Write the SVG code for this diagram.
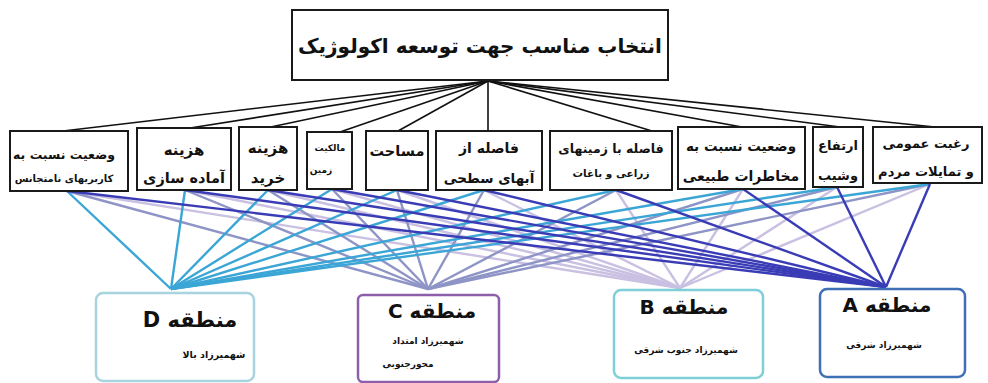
<svg xmlns="http://www.w3.org/2000/svg" width="988" height="383" viewBox="0 0 988 383">
<style>
  .box{fill:#fff;stroke:#1a1a1a;stroke-width:2}
  .t{font-family:"DejaVu Sans","Noto Sans",sans-serif;font-weight:bold;fill:#111;text-anchor:middle;direction:rtl}
  .top{stroke:#111;stroke-width:1.6;fill:none}
  .d{stroke:#3ba6d6;stroke-width:2.4}
  .c{stroke:#8e95c6;stroke-width:2.4}
  .b{stroke:#c9c0e2;stroke-width:2.4}
  .a{stroke:#3a3cb6;stroke-width:2.4}
  .reg{fill:#fff;stroke-width:2.5}
</style>
<rect width="988" height="383" fill="#fff"/>
<g id="connectors">
  <g class="top">
    <line x1="488" y1="81" x2="63" y2="131"/>
    <line x1="488" y1="81" x2="190" y2="128"/>
    <line x1="488" y1="81" x2="266" y2="128"/>
    <line x1="488" y1="81" x2="340" y2="132"/>
    <line x1="488" y1="81" x2="398" y2="131"/>
    <line x1="488" y1="81" x2="488" y2="131"/>
    <line x1="488" y1="81" x2="652" y2="131"/>
    <line x1="488" y1="81" x2="742" y2="127"/>
    <line x1="488" y1="81" x2="840" y2="127"/>
    <line x1="488" y1="81" x2="935" y2="127"/>
  </g>
  <g class="b">
    <line x1="67" y1="191" x2="680" y2="288"/>
    <line x1="185" y1="190" x2="680" y2="288"/>
    <line x1="268" y1="190" x2="680" y2="288"/>
    <line x1="332" y1="189" x2="680" y2="288"/>
    <line x1="397" y1="190" x2="680" y2="288"/>
    <line x1="484" y1="190" x2="680" y2="288"/>
    <line x1="616" y1="190" x2="680" y2="288"/>
    <line x1="743" y1="189" x2="680" y2="288"/>
    <line x1="837" y1="187" x2="680" y2="288"/>
    <line x1="930" y1="184" x2="680" y2="288"/>
  </g>
  <g class="c">
    <line x1="67" y1="191" x2="428" y2="289"/>
    <line x1="185" y1="190" x2="428" y2="289"/>
    <line x1="268" y1="190" x2="428" y2="289"/>
    <line x1="332" y1="189" x2="428" y2="289"/>
    <line x1="397" y1="190" x2="428" y2="289"/>
    <line x1="484" y1="190" x2="428" y2="289"/>
    <line x1="616" y1="190" x2="428" y2="289"/>
    <line x1="743" y1="189" x2="428" y2="289"/>
    <line x1="837" y1="187" x2="428" y2="289"/>
    <line x1="930" y1="184" x2="428" y2="289"/>
  </g>
  <g class="d">
    <line x1="67" y1="191" x2="171" y2="289"/>
    <line x1="185" y1="190" x2="171" y2="289"/>
    <line x1="268" y1="190" x2="171" y2="289"/>
    <line x1="332" y1="189" x2="171" y2="289"/>
    <line x1="397" y1="190" x2="171" y2="289"/>
    <line x1="484" y1="190" x2="171" y2="289"/>
    <line x1="616" y1="190" x2="171" y2="289"/>
    <line x1="743" y1="189" x2="171" y2="289"/>
    <line x1="837" y1="187" x2="171" y2="289"/>
    <line x1="930" y1="184" x2="171" y2="289"/>
  </g>
  <g class="a">
    <line x1="67" y1="191" x2="886" y2="287"/>
    <line x1="185" y1="190" x2="886" y2="287"/>
    <line x1="268" y1="190" x2="886" y2="287"/>
    <line x1="332" y1="189" x2="886" y2="287"/>
    <line x1="397" y1="190" x2="886" y2="287"/>
    <line x1="484" y1="190" x2="886" y2="287"/>
    <line x1="616" y1="190" x2="886" y2="287"/>
    <line x1="743" y1="189" x2="886" y2="287"/>
    <line x1="837" y1="187" x2="886" y2="287"/>
    <line x1="930" y1="184" x2="886" y2="287"/>
  </g>
</g>
<g id="goal">
  <rect class="box" x="292" y="10" width="376" height="70" stroke-width="3"/>
  <text class="t" x="480" y="53" font-size="20">انتخاب مناسب جهت توسعه اکولوژیک</text>
</g>
<g id="c1">
  <rect class="box" x="10" y="131" width="118" height="60"/>
  <text class="t" x="64" y="159" font-size="12.5">وضعیت نسبت به</text>
  <text class="t" x="64" y="182" font-size="10">کاربریهای نامتجانس</text>
</g>
<g id="c2">
  <rect class="box" x="137" y="128" width="94" height="62"/>
  <text class="t" x="184" y="155" font-size="15">هزینه</text>
  <text class="t" x="184" y="183" font-size="14.5">آماده سازی</text>
</g>
<g id="c3">
  <rect class="box" x="239" y="127" width="58" height="63"/>
  <text class="t" x="268" y="153" font-size="15">هزینه</text>
  <text class="t" x="268" y="183" font-size="15">خرید</text>
</g>
<g id="c4">
  <rect class="box" x="307" y="132" width="45" height="57" stroke-width="1.6"/>
  <text class="t" x="330" y="151" font-size="9" font-weight="normal">مالکیت</text>
  <text class="t" x="321" y="173" font-size="9" font-weight="normal">زمین</text>
</g>
<g id="c5">
  <rect class="box" x="366" y="131" width="62" height="59"/>
  <text class="t" x="397" y="156" font-size="14.5">مساحت</text>
</g>
<g id="c6">
  <rect class="box" x="436" y="131" width="106" height="59"/>
  <text class="t" x="489" y="153" font-size="14">فاصله از</text>
  <text class="t" x="489" y="183" font-size="13.5">آبهای سطحی</text>
</g>
<g id="c7">
  <rect class="box" x="550" y="131" width="122" height="59"/>
  <text class="t" x="611" y="153" font-size="12.5">فاصله با زمینهای</text>
  <text class="t" x="611" y="177" font-size="10.5">زراعی و باغات</text>
</g>
<g id="c8">
  <rect class="box" x="678" y="127" width="127" height="62"/>
  <text class="t" x="741" y="151" font-size="13.5">وضعیت نسبت به</text>
  <text class="t" x="741" y="181" font-size="14">مخاطرات طبیعی</text>
</g>
<g id="c9">
  <rect class="box" x="813" y="127" width="50" height="60"/>
  <text class="t" x="838" y="150" font-size="13">ارتفاع</text>
  <text class="t" x="838" y="180" font-size="13">وشیب</text>
</g>
<g id="c10">
  <rect class="box" x="873" y="127" width="109" height="56"/>
  <text class="t" x="926" y="148" font-size="13">رغبت عمومی</text>
  <text class="t" x="926" y="176" font-size="13">و تمایلات مردم</text>
</g>
<g id="regionD">
  <rect class="reg" x="96" y="293" width="158" height="88" rx="7" stroke="#a7d4df"/>
  <text class="t" x="190" y="327" font-size="21">منطقه D</text>
  <text class="t" x="214" y="358" font-size="9.5">شهمیرزاد بالا</text>
</g>
<g id="regionC">
  <rect class="reg" x="358" y="295" width="141" height="87" rx="5" stroke="#8d5fab"/>
  <text class="t" x="432" y="318" font-size="20">منطقه C</text>
  <text class="t" x="428" y="344" font-size="9">شهمیرزاد امتداد</text>
  <text class="t" x="408" y="367" font-size="9">محورجنوبی</text>
</g>
<g id="regionB">
  <rect class="reg" x="614" y="290" width="149" height="88" rx="7" stroke="#7ecfd7"/>
  <text class="t" x="684" y="314" font-size="20">منطقه B</text>
  <text class="t" x="686" y="353" font-size="9">شهمیرزاد جنوب شرقی</text>
</g>
<g id="regionA">
  <rect class="reg" x="820" y="289" width="145" height="88" rx="7" stroke="#3f6fb5"/>
  <text class="t" x="887" y="312" font-size="20">منطقه A</text>
  <text class="t" x="884" y="348" font-size="9">شهمیرزاد شرقی</text>
</g>
</svg>
